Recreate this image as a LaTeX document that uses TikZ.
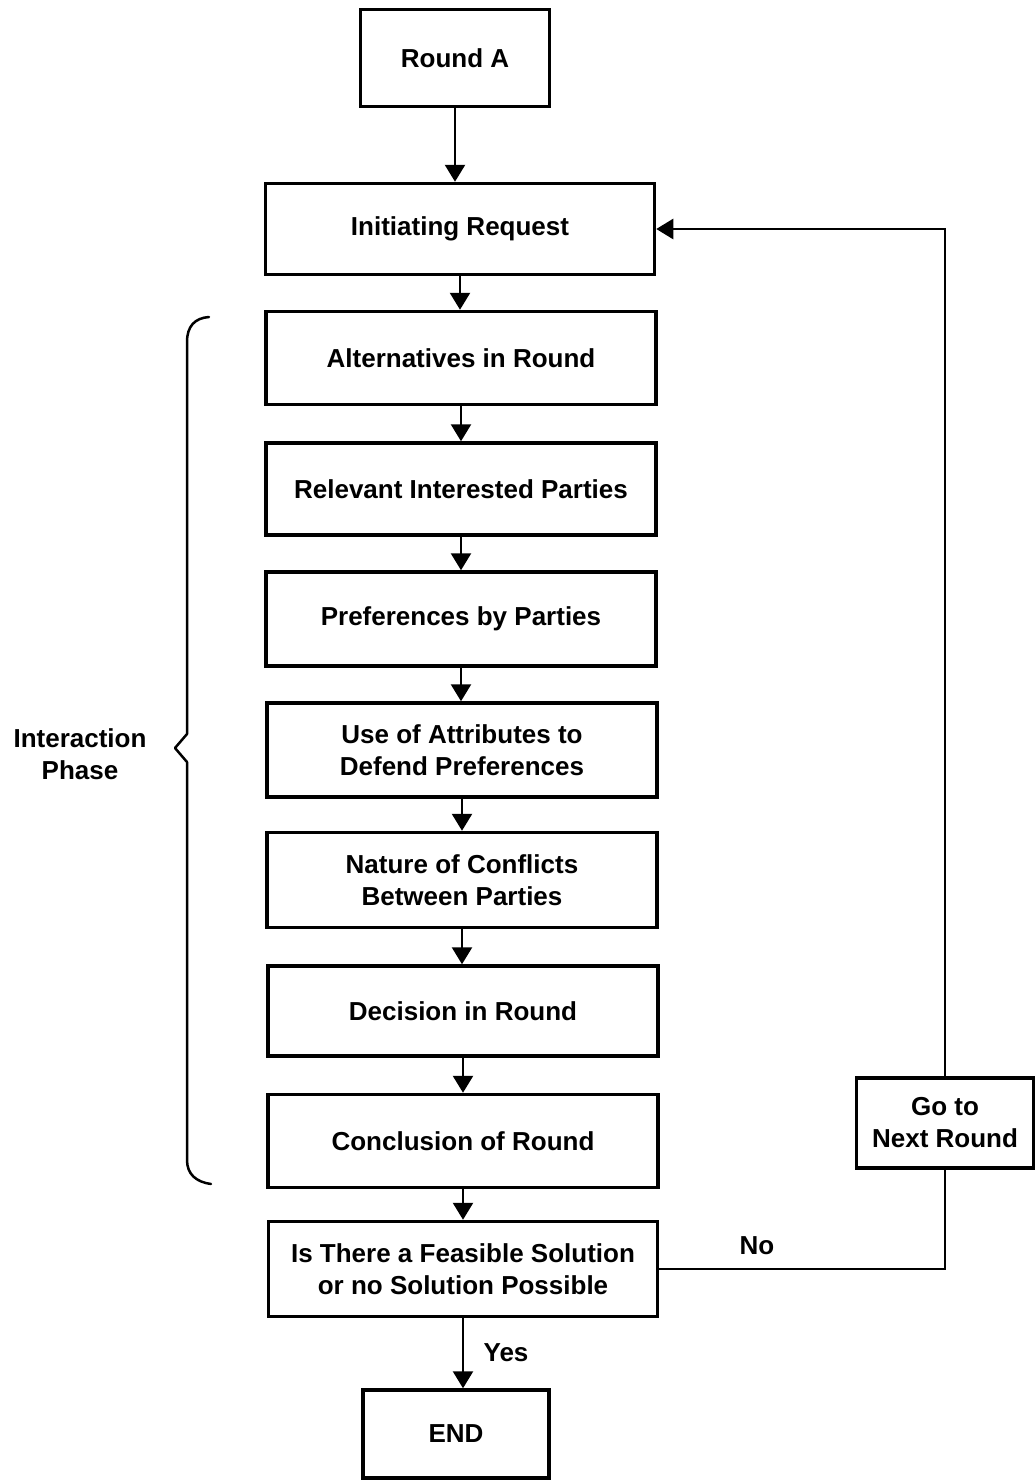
\documentclass[tikz,border=0pt]{standalone}
\usepackage{fontspec}
\setmainfont{Liberation Sans}
\usetikzlibrary{arrows.meta}
\begin{document}
\begin{tikzpicture}[x=1pt,y=-1pt,
  box/.style={draw,line width=3.5pt,minimum width=390pt,minimum height=92pt,inner sep=0pt,align=center,font=\fontsize{26}{32}\selectfont\bfseries},
  lbl/.style={inner sep=0pt,align=center,font=\fontsize{26}{32}\selectfont\bfseries},
  arr/.style={line width=2.5pt,-{Triangle[length=17pt,width=20pt]}},
  ln/.style={line width=2.5pt}]
\useasboundingbox (0,0) rectangle (1036,1481);
\node[box,minimum width=189pt,minimum height=97pt] (ra) at (455,58) {Round A};
\node[box,minimum width=389pt,minimum height=91pt] (init) at (460,229) {Initiating Request};
\node[box,minimum height=93pt] (alt) at (461,358) {Alternatives in Round};
\node[box] (rel) at (461,489) {Relevant Interested Parties};
\node[box,minimum height=94pt] (pref) at (461,619) {Preferences by Parties};
\node[box,minimum height=94pt] (use) at (462,750) {Use of Attributes to\\Defend Preferences};
\node[box,minimum height=95pt] (nat) at (462,880) {Nature of Conflicts\\Between Parties};
\node[box,minimum height=90pt] (dec) at (463,1011) {Decision in Round};
\node[box,minimum height=93pt] (conc) at (463,1141) {Conclusion of Round};
\node[box,minimum width=389pt,minimum height=95pt] (feas) at (463,1269) {Is There a Feasible Solution\\or no Solution Possible};
\node[box,minimum width=186pt,minimum height=88pt] (endn) at (456,1434) {END};
\node[box,minimum width=177pt,minimum height=90pt] (goto) at (945,1123) {Go to\\Next Round};
\node[lbl] (ip) at (80,754) {Interaction\\Phase};
\node[lbl] (no) at (757,1246) {No};
\node[lbl] (yes) at (506,1353) {Yes};
\foreach \a/\b in {ra/init,init/alt,alt/rel,rel/pref,pref/use,use/nat,nat/dec,dec/conc,conc/feas,feas/endn}
  \draw[arr] (\a.south) -- (\a.south |- \b.north);
\draw[ln] (feas.east) -- (goto.south |- feas.east) -- (goto.south);
\draw[arr] (goto.north) -- (goto.north |- init.east) -- (init.east);
\coordinate (bt) at (209,317);
\coordinate (bb) at (211,1184);
\coordinate (tip) at (175,748);
\draw[line width=2.5pt,line cap=round,line join=round] (bt) .. controls (195,318) and (187,326) .. (187,342) -- (187,734) -- (tip) -- (187,762) -- (187,1160) .. controls (187,1174) and (196,1182) .. (bb);
\end{tikzpicture}
\end{document}
